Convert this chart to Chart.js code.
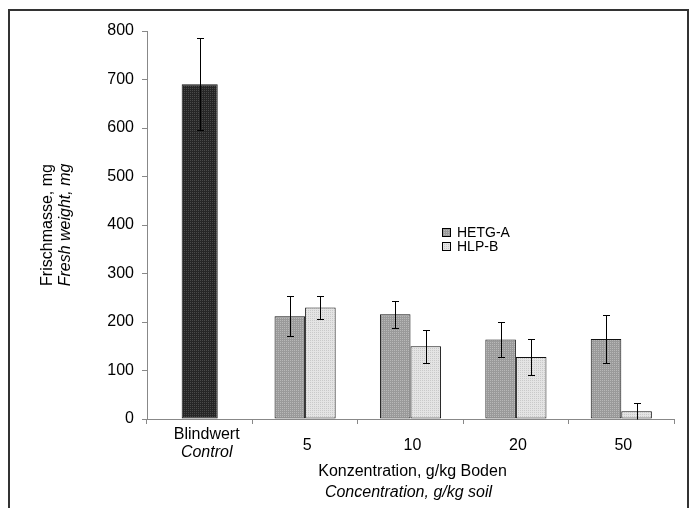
<!DOCTYPE html>
<html>
<head>
<meta charset="utf-8">
<script src="https://cdn.jsdelivr.net/npm/chart.js@4/dist/chart.umd.min.js"></script>
<style>
  body { margin: 0; background: #fff; }
  #wrap { width: 694px; height: 508px; }
</style>
</head>
<body>
<div id="wrap"><canvas id="chart"></canvas></div>
<script>
// data
const categories = ["Blindwert", "5", "10", "20", "50"];
const categoriesSub = ["Control", "", "", "", ""];
const controlValues = [690, null, null, null, null];
const controlErrors = [95, null, null, null, null];
const hetgValues = [null, 212, 216, 164, 165];
const hetgErrors = [null, 41, 28, 36, 49];
const hlpValues = [null, 230, 150, 128, 16];
const hlpErrors = [null, 23, 34, 37, 18];
const yMin = 0;
const yMax = 800;
const yStep = 100;

const FONT = "'Liberation Sans', Arial, sans-serif";

// stippled fills like the printed original
function stipple(base, dot) {
  const c = document.createElement("canvas");
  c.width = 2;
  c.height = 2;
  const g = c.getContext("2d");
  g.fillStyle = base;
  g.fillRect(0, 0, 2, 2);
  g.fillStyle = dot;
  g.fillRect(0, 0, 1, 1);
  return g.createPattern(c, "repeat");
}

const fillControl = stipple("#262626", "#4a4a4a");
const fillHetg = stipple("#9a9a9a", "#b8b8b8");
const fillHlp = stipple("#e4e4e4", "#c9c9c9");

const errorBars = {
  id: "errorBars",
  afterDatasetsDraw(chart) {
    const ctx = chart.ctx;
    const y = chart.scales.y;
    const errs = [hetgErrors, hlpErrors, controlErrors];
    ctx.save();
    ctx.strokeStyle = "#000";
    ctx.lineWidth = 1;
    chart.data.datasets.forEach((ds, d) => {
      const meta = chart.getDatasetMeta(d);
      meta.data.forEach((bar, i) => {
        const v = ds.data[i];
        const e = errs[d][i];
        if (v == null || e == null) return;
        const x = Math.round(bar.x) + 0.5;
        const top = Math.round(y.getPixelForValue(v + e)) + 0.5;
        const lowVal = v - e;
        const bot = Math.round(y.getPixelForValue(Math.max(0, lowVal))) + 0.5;
        ctx.beginPath();
        ctx.moveTo(x, top);
        ctx.lineTo(x, bot);
        ctx.moveTo(x - 3.5, top);
        ctx.lineTo(x + 3.5, top);
        if (lowVal > 0) {
          ctx.moveTo(x - 3.5, bot);
          ctx.lineTo(x + 3.5, bot);
        }
        ctx.stroke();
      });
    });
    ctx.restore();
  },
};

const texts = {
  id: "texts",
  afterDraw(chart) {
    const ctx = chart.ctx;
    const area = chart.chartArea;
    const xs = chart.scales.x;
    ctx.save();

    // frame
    ctx.strokeStyle = "#333";
    ctx.lineWidth = 2;
    ctx.strokeRect(9, 10, 679, 600);

    ctx.fillStyle = "#000";
    ctx.textAlign = "center";
    ctx.textBaseline = "middle";

    // y title, two lines
    const cy = (area.top + area.bottom) / 2;
    [["Frischmasse, mg", "", 48], ["Fresh weight, mg", "italic ", 66]].forEach(([t, st, x]) => {
      ctx.save();
      ctx.translate(x, cy);
      ctx.rotate(-Math.PI / 2);
      ctx.font = st + "16px " + FONT;
      ctx.fillText(t, 0, 0);
      ctx.restore();
    });

    // category labels
    categories.forEach((c, i) => {
      const x = xs.getPixelForValue(i) + (i === 0 ? 7 : 2);
      if (categoriesSub[i]) {
        ctx.font = "16px " + FONT;
        ctx.fillText(c, x, 435);
        ctx.font = "italic 16px " + FONT;
        ctx.fillText(categoriesSub[i], x, 453);
      } else {
        ctx.font = "16px " + FONT;
        ctx.fillText(c, x, 446);
      }
    });

    // x title
    const cx = (area.left + area.right) / 2;
    ctx.font = "16px " + FONT;
    ctx.fillText("Konzentration, g/kg Boden", cx + 2, 472);
    ctx.font = "italic 16px " + FONT;
    ctx.fillText("Concentration, g/kg soil", cx - 2, 493);

    // legend
    ctx.textAlign = "left";
    ctx.font = "14px " + FONT;
    [["HETG-A", fillHetg, 233], ["HLP-B", fillHlp, 247]].forEach(([t, f, yy]) => {
      ctx.fillStyle = f;
      ctx.fillRect(443, yy - 4, 7, 7);
      ctx.strokeStyle = "#000";
      ctx.lineWidth = 1;
      ctx.strokeRect(442.5, yy - 4.5, 8, 8);
      ctx.fillStyle = "#000";
      ctx.fillText(t, 457, yy);
    });

    ctx.restore();
  },
};

new Chart(document.getElementById("chart"), {
  type: "bar",
  data: {
    labels: categories,
    datasets: [
      {
        label: "HETG-A",
        data: hetgValues,
        backgroundColor: fillHetg,
        borderColor: "#111",
        borderWidth: 1,
        borderSkipped: false,
      },
      {
        label: "HLP-B",
        data: hlpValues,
        backgroundColor: fillHlp,
        borderColor: "#111",
        borderWidth: 1,
        borderSkipped: false,
      },
      {
        label: "Control",
        data: controlValues,
        backgroundColor: fillControl,
        borderColor: "#111",
        borderWidth: 1,
        borderSkipped: false,
        barPercentage: 0.59,
      },
    ],
  },
  options: {
    responsive: true,
    maintainAspectRatio: false,
    animation: false,
    skipNull: true,
    categoryPercentage: 0.58,
    barPercentage: 1,
    layout: { padding: { top: 31, right: 20, left: 0, bottom: 0 } },
    plugins: {
      legend: { display: false },
      tooltip: { enabled: false },
    },
    scales: {
      x: {
        grid: { drawOnChartArea: false, tickLength: 5, color: "#888", offset: true },
        border: { color: "#888" },
        ticks: { display: false },
        afterFit(s) {
          s.height = 89;
        },
      },
      y: {
        min: yMin,
        max: yMax,
        ticks: {
          stepSize: yStep,
          color: "#000",
          padding: 8,
          font: { size: 16, family: FONT },
        },
        grid: { drawOnChartArea: false, tickLength: 5, color: "#888" },
        border: { color: "#888" },
        afterFit(s) {
          s.width = 147;
        },
      },
    },
  },
  plugins: [errorBars, texts],
});
</script>
</body>
</html>
